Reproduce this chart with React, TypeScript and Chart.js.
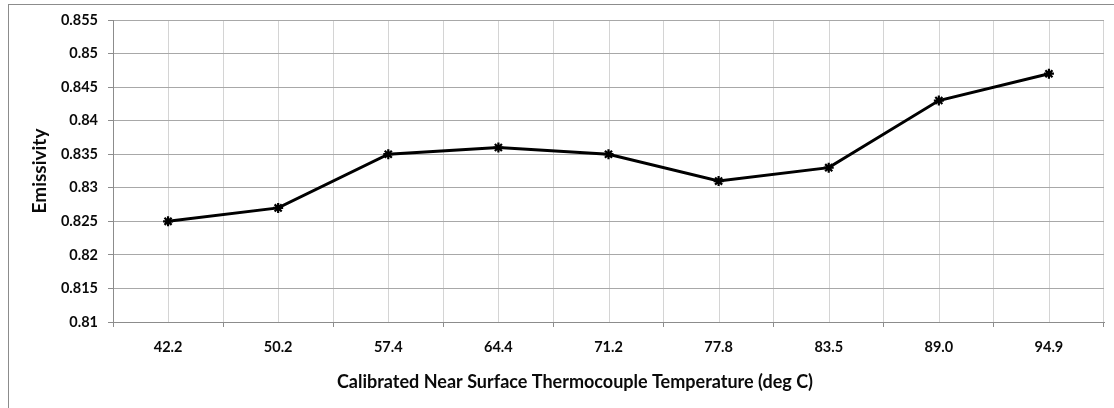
import React, { useEffect, useRef } from "react";
import { Chart, registerables } from "chart.js";

Chart.register(...registerables);

const categories = ["42.2", "50.2", "57.4", "64.4", "71.2", "77.8", "83.5", "89.0", "94.9"];
const emissivity = [0.825, 0.827, 0.835, 0.836, 0.835, 0.831, 0.833, 0.843, 0.847];
const yMin = 0.81;
const yMax = 0.855;
const yStep = 0.005;
const xTitle = "Calibrated Near Surface Thermocouple Temperature (deg C)";
const yTitle = "Emissivity";

const FONT = "Lato, 'Open Sans', sans-serif";

const centerLines = {
  id: "centerLines",
  beforeDraw(chart: any) {
    const { ctx, chartArea, scales } = chart;
    const xs = scales.x;
    ctx.save();
    ctx.strokeStyle = "#d4d4d4";
    ctx.lineWidth = 1;
    for (let i = 0; i < categories.length; i++) {
      const x = Math.round(xs.getPixelForValue(i)) + 0.5;
      ctx.beginPath();
      ctx.moveTo(x, chartArea.top);
      ctx.lineTo(x, chartArea.bottom);
      ctx.stroke();
    }
    ctx.restore();
  },
};

// x-axis title centred on the whole chart frame (as in the original), not just the plot area
const xTitlePlugin = {
  id: "xTitlePlugin",
  afterDraw(chart: any) {
    const { ctx } = chart;
    const xs = chart.scales.x;
    ctx.save();
    ctx.font = `bold 18px ${FONT}`;
    ctx.fillStyle = "#0a0a0a";
    ctx.textAlign = "center";
    ctx.textBaseline = "middle";
    ctx.fillText(xTitle, 575, xs.bottom - 16);
    ctx.restore();
  },
};

export default function App() {
  const ref = useRef<HTMLCanvasElement | null>(null);

  useEffect(() => {
    if (!ref.current) return;
    const chart = new Chart(ref.current, {
      type: "line",
      data: {
        labels: categories,
        datasets: [
          {
            data: emissivity,
            borderColor: "#000000",
            backgroundColor: "#000000",
            borderWidth: 3,
            pointStyle: "star",
            pointRadius: 5,
            pointBorderWidth: 2.2,
            pointBorderColor: "#000000",
            tension: 0,
          },
        ],
      },
      options: {
        animation: false,
        responsive: false,
        maintainAspectRatio: false,
        layout: { padding: { left: 24, right: 10, top: 20, bottom: 10 } },
        plugins: { legend: { display: false }, tooltip: { enabled: false } },
        scales: {
          x: {
            type: "category",
            offset: true,
            grid: {
              offset: true,
              color: "#d4d4d4",
              tickColor: "#8c8c8c",
              tickLength: 5,
            },
            border: { color: "#8c8c8c", width: 1 },
            ticks: {
              color: "#0a0a0a",
              font: { family: FONT, size: 14.5, weight: "bold" },
              padding: 12,
              maxRotation: 0,
            },
            title: { display: false },
            afterFit: (s: any) => {
              s.height = 76;
            },
          },
          y: {
            min: yMin,
            max: yMax,
            grid: { color: "#a8a8a8", tickColor: "#8c8c8c", tickLength: 5 },
            border: { color: "#8c8c8c", width: 1 },
            ticks: {
              stepSize: yStep,
              color: "#0a0a0a",
              font: { family: FONT, size: 14.5, weight: "bold" },
              padding: 10,
              callback: (v: any) => String(Number(Number(v).toFixed(3))),
            },
            title: {
              display: true,
              text: yTitle,
              color: "#0a0a0a",
              font: { family: FONT, size: 19, weight: "bold" },
              padding: { top: 4, bottom: 0 },
            },
            afterFit: (s: any) => {
              s.width = 89;
            },
          },
        },
      },
      plugins: [centerLines, xTitlePlugin],
    });
    return () => chart.destroy();
  }, []);

  return (
    <div style={{ position: "absolute", left: 0, top: 0, width: 1114, height: 408, overflow: "hidden", background: "#fff" }}>
      <div
        style={{
          position: "absolute",
          left: 8,
          top: 4,
          width: 1200,
          height: 500,
          borderTop: "1px solid #8c8c8c",
          borderLeft: "1px solid #8c8c8c",
        }}
      />
      <canvas ref={ref} width={1114} height={408} style={{ position: "absolute", left: 0, top: 0 }} />
    </div>
  );
}
